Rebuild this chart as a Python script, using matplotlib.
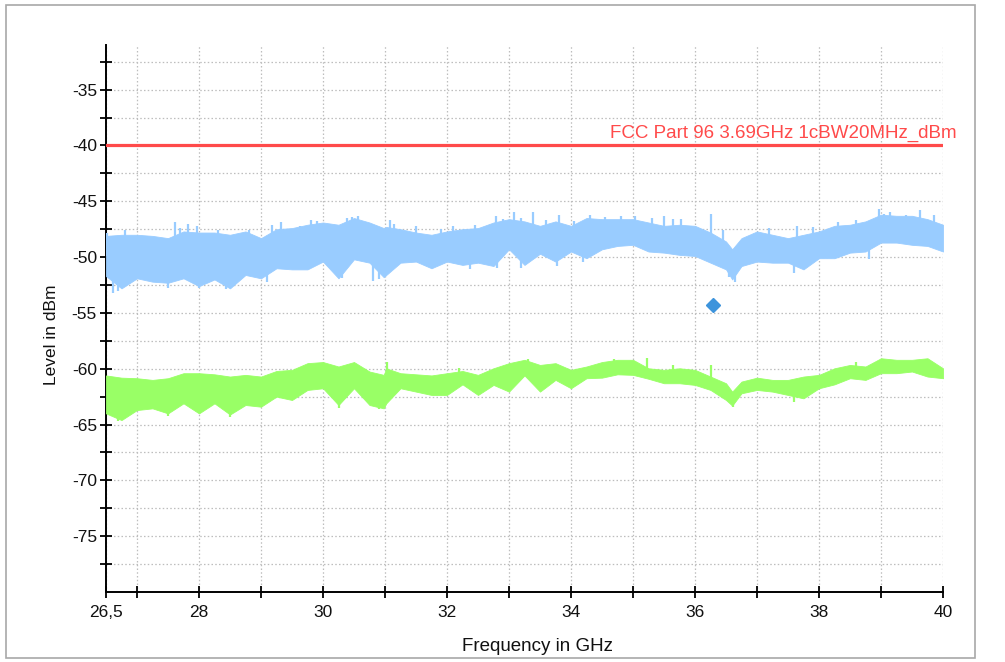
import numpy as np
import matplotlib
matplotlib.use("Agg")
import matplotlib.pyplot as plt
from matplotlib.patches import Rectangle
from matplotlib.ticker import FixedLocator, FixedFormatter

plt.rcParams['font.family'] = ['Liberation Sans', 'DejaVu Sans']

# Frequency grid (GHz) on which the trace envelopes were recorded
freq = [26.5, 26.75, 27.0, 27.25, 27.5, 27.75, 28.0, 28.25, 28.5, 28.75, 29.0, 29.25,
        29.5, 29.75, 30.0, 30.25, 30.5, 30.75, 30.98, 31.02, 31.25, 31.5, 31.75, 32.0,
        32.25, 32.5, 32.75, 33.0, 33.25, 33.5, 33.75, 34.0, 34.25, 34.5, 34.75, 35.0,
        35.25, 35.5, 35.75, 36.0, 36.25, 36.5, 36.6, 36.75, 37.0, 37.25, 37.5, 37.75,
        38.0, 38.25, 38.5, 38.75, 39.0, 39.25, 39.5, 39.75, 40.0]

# Peak detector trace (max / min envelope, dBm)
peak_hi = [-48.1, -48.0, -48.0, -48.1, -48.3, -47.7, -47.8, -47.8, -48.0, -47.7, -48.3, -47.5,
           -47.4, -47.1, -46.9, -47.1, -46.5, -46.9, -47.4, -47.3, -47.5, -47.8, -48.0, -47.7,
           -47.5, -47.4, -46.9, -46.6, -46.8, -47.2, -46.8, -47.2, -46.5, -46.6, -46.6, -46.6,
           -46.9, -47.2, -47.1, -47.2, -47.8, -48.6, -49.3, -48.3, -47.7, -48.0, -48.3, -48.0,
           -47.7, -47.2, -47.1, -46.8, -46.2, -46.3, -46.3, -46.6, -47.1]
peak_lo = [-51.7, -52.8, -51.9, -52.2, -52.3, -51.9, -52.6, -52.0, -52.8, -51.6, -51.9, -51.0,
           -51.1, -51.1, -50.4, -51.9, -50.2, -50.5, -51.8, -51.6, -50.5, -50.4, -51.0, -50.4,
           -50.7, -50.5, -50.8, -49.3, -50.7, -49.7, -50.4, -49.5, -50.1, -49.3, -49.0, -48.9,
           -49.5, -49.6, -49.8, -49.9, -50.5, -51.1, -52.0, -50.8, -50.4, -50.5, -50.5, -51.1,
           -50.1, -50.1, -49.6, -49.5, -48.7, -48.7, -48.9, -49.0, -49.5]

# Average detector trace (max / min envelope, dBm)
avg_hi = [-60.6, -60.8, -60.85, -61.0, -60.85, -60.4, -60.4, -60.5, -60.7, -60.55, -60.7, -60.2,
          -60.1, -59.5, -59.4, -59.8, -59.4, -60.25, -60.55, -59.96, -60.4, -60.5, -60.6, -60.4,
          -60.2, -60.55, -59.96, -59.5, -59.2, -59.66, -59.5, -60.1, -59.8, -59.4, -59.2, -59.2,
          -59.96, -60.1, -59.96, -60.1, -60.7, -61.3, -62.05, -61.15, -60.8, -61.0, -61.0, -60.7,
          -60.55, -59.96, -59.66, -59.8, -59.06, -59.2, -59.2, -59.06, -59.96]
avg_lo = [-64.0, -64.6, -63.7, -63.55, -64.0, -63.1, -64.0, -63.1, -64.1, -63.25, -63.4, -62.5,
          -62.8, -61.9, -61.75, -63.25, -61.75, -63.25, -63.55, -63.1, -61.75, -62.05, -62.35, -62.35,
          -61.4, -62.35, -61.45, -62.05, -60.6, -62.05, -61.0, -61.75, -60.85, -60.8, -60.5, -60.55,
          -60.9, -61.3, -61.3, -61.45, -61.9, -62.8, -63.3, -62.2, -61.9, -62.05, -62.35, -62.65,
          -61.75, -61.4, -60.85, -61.0, -60.4, -60.4, -60.25, -60.7, -60.85]

# Isolated peaks / dips that stick out of the envelopes
peak_spike_f = [26.51, 26.8, 27.61, 27.7, 27.83, 27.97, 28.3, 28.8, 29.17, 29.33, 29.63,
                29.8, 29.9, 30.05, 30.38, 30.46, 30.57, 30.85, 31.08, 31.15, 31.5, 31.9,
                32.1, 32.45, 32.79, 32.9, 33.08, 33.2, 33.38, 33.6, 33.81, 34.05, 34.3,
                34.55, 34.8, 35.03, 35.3, 35.5, 35.65, 35.78, 36.26, 36.45, 37.2, 37.65,
                37.9, 38.3, 38.6, 38.96, 39.05, 39.15, 39.4, 39.63, 39.85]
peak_spike_v = [-47.8, -47.6, -46.9, -47.4, -47.0, -47.2, -47.6, -47.6, -47.1, -46.9, -47.2,
                -46.7, -46.8, -47.1, -46.5, -46.4, -46.3, -47.2, -46.7, -47.0, -47.2, -47.5,
                -47.2, -47.1, -46.3, -46.6, -46.0, -46.5, -46.0, -46.7, -46.2, -46.8, -46.2,
                -46.4, -46.3, -46.3, -46.5, -46.3, -46.6, -46.6, -46.1, -47.6, -47.4, -47.2,
                -47.3, -46.9, -46.7, -45.7, -46.1, -46.0, -46.2, -45.8, -46.2]
peak_dip_f = [26.62, 26.7, 27.5, 28.0, 28.44, 28.52, 29.1, 30.3, 30.8, 30.9, 32.37, 32.8,
              33.2, 33.77, 34.2, 36.55, 36.65, 37.6, 38.8]
peak_dip_v = [-53.2, -53.0, -52.8, -52.8, -52.9, -52.7, -52.2, -51.9, -52.1, -52.0, -51.1,
              -51.0, -51.0, -50.8, -50.4, -51.8, -52.2, -51.4, -50.2]
avg_spike_f = [31.03, 32.2, 33.3, 34.7, 35.22, 35.65, 36.26, 38.6]
avg_spike_v = [-59.36, -59.9, -59.1, -59.1, -59.06, -59.66, -59.66, -59.4]
avg_dip_f = [26.7, 27.5, 28.5, 30.25, 30.9, 36.62, 37.6]
avg_dip_v = [-64.7, -64.2, -64.3, -63.5, -63.6, -63.4, -62.95]

# Limit line and the single final measurement
limit_level = -40.0
limit_label = "FCC Part 96 3.69GHz 1cBW20MHz_dBm"
final_f = [36.29]
final_v = [-54.25]

x_major = [26.5, 28, 30, 32, 34, 36, 38, 40]
x_major_labels = ["26,5", "28", "30", "32", "34", "36", "38", "40"]
x_minor = [27, 29, 31, 33, 35, 37, 39]
y_major = [-75, -70, -65, -60, -55, -50, -45, -40, -35]
y_major_labels = ["-75", "-70", "-65", "-60", "-55", "-50", "-45", "-40", "-35"]
y_minor = [-77.5, -72.5, -67.5, -62.5, -57.5, -52.5, -47.5, -42.5, -37.5, -32.5]

BLUE = "#99ccff"
GREEN = "#99ff66"
RED = "#ff4a4a"

fig = plt.figure(figsize=(10.05, 6.62), dpi=100)
fig.patch.set_facecolor("white")
ax = fig.add_axes([106 / 1005, 1 - 592 / 662, (943 - 106) / 1005, (592 - 45) / 662])

ax.set_xlim(26.5, 40)
ax.set_ylim(-80, -31)

# grid
ax.xaxis.set_major_locator(FixedLocator(x_major))
ax.xaxis.set_major_formatter(FixedFormatter(x_major_labels))
ax.xaxis.set_minor_locator(FixedLocator(x_minor))
ax.yaxis.set_major_locator(FixedLocator(y_major))
ax.yaxis.set_major_formatter(FixedFormatter(y_major_labels))
ax.yaxis.set_minor_locator(FixedLocator(y_minor))
ax.grid(True, which="both", color="#bdbdbd", linestyle=(0, (1.2, 1.8)), linewidth=0.9)
ax.set_axisbelow(True)

for s in ("top", "right"):
    ax.spines[s].set_visible(False)
for s in ("left", "bottom"):
    ax.spines[s].set_linewidth(1.4)
    ax.spines[s].set_color("black")

ax.tick_params(which="both", direction="inout", length=9, width=1.3, color="black",
               labelsize=12.5, labelcolor="#111111")
ax.tick_params(axis="x", which="both", pad=5)
ax.tick_params(axis="y", which="both", pad=2)

f = np.asarray(freq)

# peak trace
ax.fill_between(f, peak_lo, peak_hi, color=BLUE, linewidth=0.6, edgecolor=BLUE, zorder=3)
mid_pk = (np.asarray(peak_hi) + np.asarray(peak_lo)) / 2
ax.vlines(peak_spike_f, np.interp(peak_spike_f, f, mid_pk), peak_spike_v, color=BLUE,
          linewidth=1.6, zorder=3)
ax.vlines(peak_dip_f, peak_dip_v, np.interp(peak_dip_f, f, mid_pk), color=BLUE,
          linewidth=1.6, zorder=3)

# average trace
ax.fill_between(f, avg_lo, avg_hi, color=GREEN, linewidth=0.6, edgecolor=GREEN, zorder=3)
mid_av = (np.asarray(avg_hi) + np.asarray(avg_lo)) / 2
ax.vlines(avg_spike_f, np.interp(avg_spike_f, f, mid_av), avg_spike_v, color=GREEN,
          linewidth=1.6, zorder=3)
ax.vlines(avg_dip_f, avg_dip_v, np.interp(avg_dip_f, f, mid_av), color=GREEN,
          linewidth=1.6, zorder=3)

# limit line
ax.axhline(limit_level, color=RED, linewidth=2.3, zorder=4)
ax.text(34.63, limit_level + 0.3, limit_label, color=RED, fontsize=13.5,
        ha="left", va="bottom", zorder=5, clip_on=False)

# final measurement
ax.plot(final_f, final_v, linestyle="none", marker="D", markersize=7,
        color="#3d94dc", zorder=5)

ax.set_xlabel("Frequency in GHz", fontsize=13.5, color="#111111")
ax.set_ylabel("Level in dBm", fontsize=12.5, color="#111111")
ax.xaxis.set_label_coords(0.515, -0.085)
ax.yaxis.set_label_coords(-0.056, 0.47)

# outer frame
fig.add_artist(Rectangle((6 / 1005, 1 - 658 / 662), (975 - 6) / 1005, (658 - 5) / 662,
                         transform=fig.transFigure, fill=False, edgecolor="#a8a8a8",
                         linewidth=1.2, zorder=10))

fig.savefig("out.png", dpi=100, facecolor="white")
